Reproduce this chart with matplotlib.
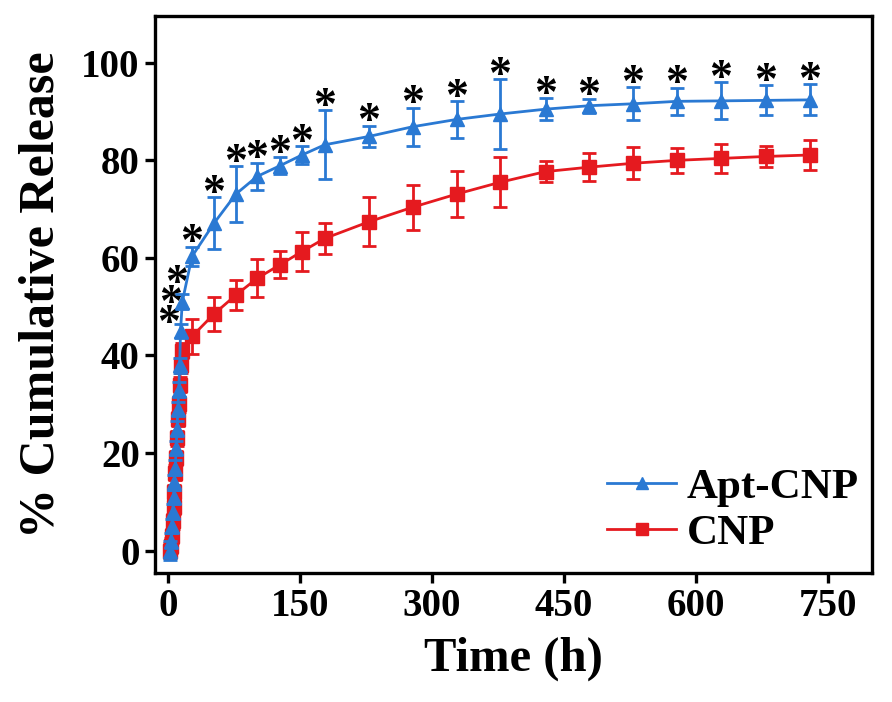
import numpy as np
import matplotlib
matplotlib.use("Agg")
import matplotlib.pyplot as plt
from matplotlib.lines import Line2D

plt.rcParams['font.family'] = ['Liberation Serif', 'DejaVu Serif']
plt.rcParams['font.weight'] = 'bold'

## data (time in h, % cumulative release)
apt_time = [2, 3, 4, 5, 6, 7, 8, 9, 10, 11, 12, 13, 14, 16,
            27, 52, 77, 101, 127, 152, 178, 228, 278, 328, 377,
            429, 478, 528, 578, 628, 679, 729]
apt_release = [0, 2, 5, 8, 11, 14, 17, 21, 25, 29, 33, 38, 45, 51,
               60.3, 67.1, 73.1, 76.7, 78.9, 81.1, 83.2, 84.9, 86.9, 88.4, 89.5,
               90.5, 91.2, 91.6, 92.1, 92.2, 92.3, 92.4]
apt_err = [2, 1.5, 1.5, 1.5, 1.5, 1.5, 1.5, 1.5, 1.5, 1.5, 1.5, 1.5, 1.5, 1.5,
           2.0, 5.3, 5.7, 2.8, 1.7, 1.8, 7.1, 2.2, 3.9, 3.8, 7.1,
           2.3, 1.4, 3.4, 2.8, 3.8, 3.1, 3.2]

cnp_time = [2, 3, 4, 5, 6, 7, 8, 9, 10, 11, 12, 13, 14, 16,
            27, 52, 77, 101, 127, 152, 178, 228, 278, 328, 377,
            429, 478, 528, 578, 628, 679, 729]
cnp_release = [0, 1, 3, 6, 9, 12, 16, 19, 23, 27, 30, 34, 38, 41,
               43.9, 48.5, 52.4, 55.8, 58.6, 61.3, 64.0, 67.4, 70.4, 73.1, 75.5,
               77.7, 78.6, 79.4, 80.0, 80.4, 80.8, 81.1]
cnp_err = [1.5, 1.5, 1.5, 1.5, 1.5, 1.5, 1.5, 1.5, 1.5, 1.5, 1.5, 1.5, 1.5, 1.5,
           3.5, 3.5, 3.0, 3.9, 2.8, 4.0, 3.2, 5.0, 4.6, 4.8, 5.1,
           2.2, 2.9, 3.3, 2.6, 2.9, 2.1, 3.0]

# significance stars beside the first few early points
early_star_t = [0.3, 2.3, 9]
early_star_y = [48.3, 52.4, 56.5]

blue = '#2a79d3'
red = '#e51a1f'

fig = plt.figure(figsize=(8.92, 7.02), dpi=100)
ax = fig.add_axes([0.1738, 0.1838, 0.8038, 0.7934])

ax.errorbar(cnp_time, cnp_release, yerr=cnp_err, color=red, marker='s',
            markersize=10, lw=2, elinewidth=2, capsize=5, capthick=2,
            zorder=3)
ax.errorbar(apt_time, apt_release, yerr=apt_err, color=blue, marker='^',
            markersize=10, lw=2, elinewidth=2, capsize=5, capthick=2,
            zorder=4)

# stars: above the error bars for t >= 25 h, beside the points before that
star_kw = dict(textcoords='offset points', xytext=(0, -15), ha='center',
               va='baseline', fontsize=33, fontweight='bold', color='black')
for t, y, e in zip(apt_time, apt_release, apt_err):
    if t >= 25:
        ax.annotate('*', xy=(t, y + e + 2.5), **star_kw)
for t, y in zip(early_star_t, early_star_y):
    ax.annotate('*', xy=(t, y), **star_kw)

ax.set_xlim(-15, 800)
ax.set_ylim(-4.6, 109.6)
ax.set_xticks([0, 150, 300, 450, 600, 750])
ax.set_yticks([0, 20, 40, 60, 80, 100])

for s in ax.spines.values():
    s.set_linewidth(2.4)
ax.tick_params(direction='out', length=7, width=2.4, labelsize=28, pad=4)
for lab in ax.get_xticklabels() + ax.get_yticklabels():
    lab.set_fontweight('bold')

ax.set_xlabel('Time (h)', fontsize=35, fontweight='bold', labelpad=8)
ax.set_ylabel('% Cumulative Release', fontsize=36, fontweight='bold', labelpad=12)

handles = [Line2D([], [], color=blue, marker='^', markersize=9, lw=2),
           Line2D([], [], color=red, marker='s', markersize=9, lw=2)]
leg = ax.legend(handles, ['Apt-CNP', 'CNP'], loc='lower right', frameon=False,
                fontsize=31, handlelength=1.6, handletextpad=0.25,
                labelspacing=0.15, borderaxespad=0.2,
                bbox_to_anchor=(1.018, -0.01))
for t in leg.get_texts():
    t.set_fontweight('bold')

fig.savefig('out.png', dpi=100)
